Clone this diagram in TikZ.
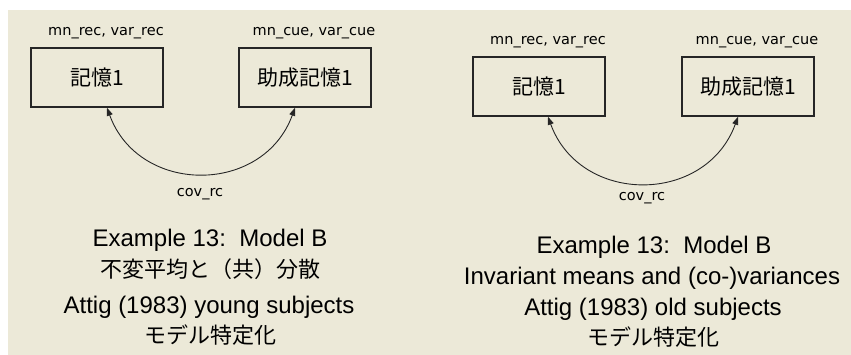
\documentclass[tikz,border=0pt]{standalone}
\usepackage{fontspec}
\setmainfont{Liberation Sans}
\newfontfamily\jpfont{Noto Sans CJK JP}
\newfontfamily\lblfont{DejaVu Sans}
\usetikzlibrary{arrows.meta}
\definecolor{panelbg}{HTML}{ECE9D8}
\begin{document}
\begin{tikzpicture}[x=1pt,y=-1pt,
  varbox/.style={draw=black!85,line width=1.5pt,minimum width=132pt,minimum height=59pt,inner sep=0pt,font=\jpfont\fontsize{21}{25}\selectfont},
  parlabel/.style={anchor=base,inner sep=0pt,font=\lblfont\fontsize{14.5}{17}\selectfont},
  titlelat/.style={anchor=base,inner sep=0pt,font=\fontsize{24}{28}\selectfont},
  titlejp/.style={inner sep=0pt,font=\jpfont\fontsize{22}{26}\selectfont},
  covarrow/.style={{Triangle[length=8pt,width=6pt]}-{Triangle[length=8pt,width=6pt]},line width=0.9pt,black!85}
]
\useasboundingbox (0,0) rectangle (851,355);
\fill[panelbg] (8,10) rectangle (851,355);

% left panel
\node[varbox] (a) at (97,77.5) {記憶1};
\node[varbox] (b) at (305,77.5) {助成記憶1};
\node[parlabel] (la) at (106,36) {mn\_rec, var\_rec};
\node[parlabel] (lb) at (314,36) {mn\_cue, var\_cue};
\draw[covarrow] ([xshift=10pt]a.south) to[out=-70,in=-110,looseness=1.27] ([xshift=-10pt]b.south);
\node[parlabel] (cl) at (200,197) {cov\_rc};
\node[titlelat] (t1) at (210,246.7) {Example 13:\ \ Model B};
\node[titlejp] (t2) at (210,269) {不変平均と（共）分散};
\node[titlelat] (t3) at (209,313) {Attig (1983) young subjects};
\node[titlejp] (t4) at (210,335) {モデル特定化};

% right panel
\node[varbox] (c) at (539,86.5) {記憶1};
\node[varbox] (d) at (748,86.5) {助成記憶1};
\node[parlabel] (lc) at (548,45) {mn\_rec, var\_rec};
\node[parlabel] (ld) at (757,45) {mn\_cue, var\_cue};
\draw[covarrow] ([xshift=9pt]c.south) to[out=-70,in=-110,looseness=1.27] ([xshift=-10pt]d.south);
\node[parlabel] (cr) at (642,201) {cov\_rc};
\node[titlelat] (u1) at (654,254) {Example 13:\ \ Model B};
\node[titlelat] (u2) at (652,285) {Invariant means and (co-)variances};
\node[titlelat] (u3) at (653,315) {Attig (1983) old subjects};
\node[titlejp] (u4) at (653,337) {モデル特定化};
\end{tikzpicture}
\end{document}
